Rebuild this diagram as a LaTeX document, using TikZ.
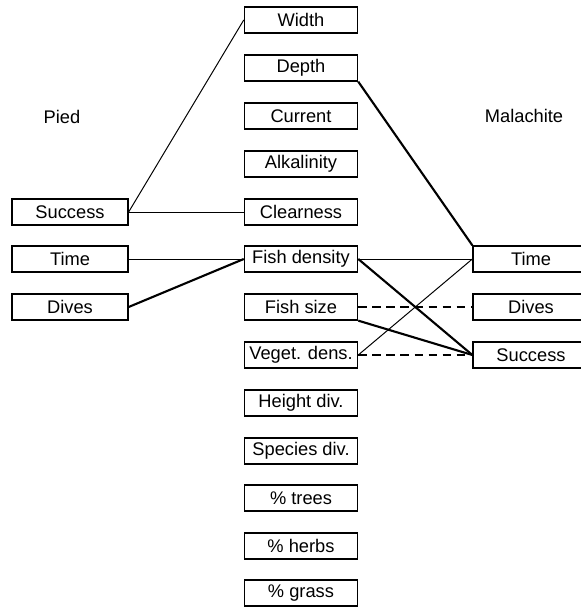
\documentclass[tikz,border=0pt]{standalone}
\usepackage{fontspec}
\setmainfont{Liberation Sans}
\usetikzlibrary{positioning}

\begin{document}
\begin{tikzpicture}[
    x=0.025cm, y=-0.025cm,
    box/.style={draw, rectangle, line width=0.9pt, minimum width=2.83cm, minimum height=0.65cm, inner sep=0pt},
    sidebox/.style={box, minimum width=2.9cm},
    link/.style={line width=0.7pt},
    strong/.style={line width=1.5pt},
    dashlink/.style={line width=1.1pt, dash pattern=on 6pt off 4pt},
    font=\fontsize{13}{15}\selectfont
]
\useasboundingbox (0,0) rectangle (580,609);

%-------------------------------------------------
% Habitat variables
%-------------------------------------------------
\node[box] (width)      at (301,20)  {Width};
\node[box] (depth)      at (301,68)  {Depth};
\node[box] (current)    at (301,116) {Current};
\node[box] (alkalinity) at (301,164) {Alkalinity};
\node[box] (clearness)  at (301,212) {Clearness};
\node[box] (fishdens)   at (301,259) {Fish density};
\node[box] (fishsize)   at (301,307) {Fish size};
\node[box] (vegdens)    at (301,355) {Veget. dens.};
\node[box] (heightdiv)  at (301,403) {Height div.};
\node[box] (speciesdiv) at (301,451) {Species div.};
\node[box] (trees)      at (301,498) {\% trees};
\node[box] (herbs)      at (301,546) {\% herbs};
\node[box] (grass)      at (301,593) {\% grass};

%-------------------------------------------------
% Pied
%-------------------------------------------------
\node (pied) at (62,117) {Pied};
\node[sidebox] (lsuccess) at (70,212) {Success};
\node[sidebox] (ltime)    at (70,259) {Time};
\node[sidebox] (ldives)   at (70,307) {Dives};

%-------------------------------------------------
% Malachite
%-------------------------------------------------
\node (malachite) at (524,116) {Malachite};
\node[sidebox] (rtime)    at (531,259) {Time};
\node[sidebox] (rdives)   at (531,307) {Dives};
\node[sidebox] (rsuccess) at (531,355) {Success};

%-------------------------------------------------
% Links
%-------------------------------------------------
\draw[link]   (lsuccess.east) -- (width.west);
\draw[link]   (lsuccess.east) -- (clearness.west);
\draw[link]   (ltime.east)    -- (fishdens.west);
\draw[strong] (ldives.east)   -- (fishdens.west);

\draw[strong]   (depth.south east)    -- (rtime.north west);
\draw[link]     (fishdens.east)       -- (rtime.west);
\draw[strong]   (fishdens.east)       -- (rsuccess.west);
\draw[dashlink] (fishsize.east)       -- (rdives.west);
\draw[strong]   (fishsize.south east) -- (rsuccess.west);
\draw[link]     (vegdens.east)        -- (rtime.west);
\draw[dashlink] (vegdens.east)        -- (rsuccess.west);

\end{tikzpicture}
\end{document}
